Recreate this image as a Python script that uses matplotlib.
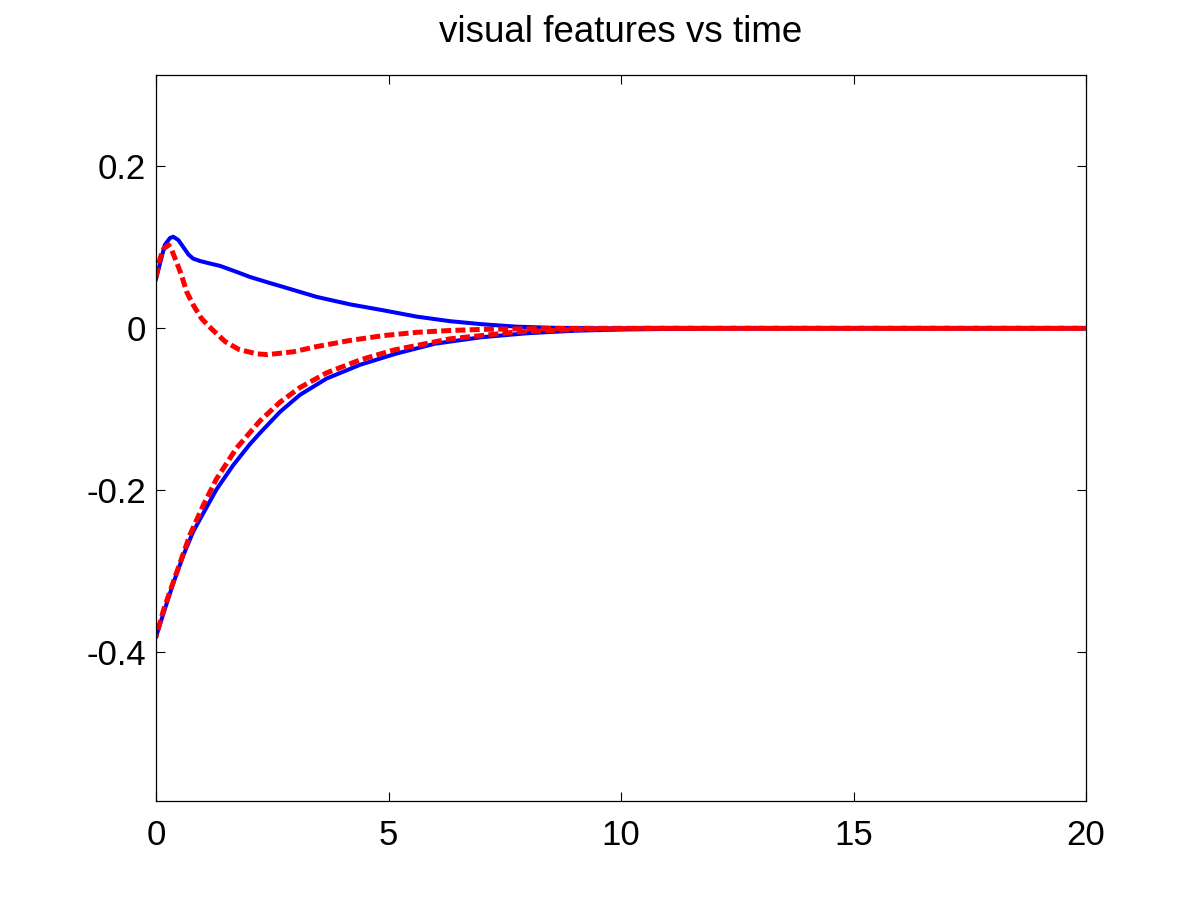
import matplotlib
matplotlib.use("Agg")
import matplotlib.pyplot as plt

# ---- data ----
t_blue_up = [0, 0.086, 0.19, 0.30, 0.37, 0.48, 0.59, 0.70, 0.80, 0.95, 1.16, 1.38,
             1.74, 2.02, 2.42, 2.74, 3.46, 4.17, 4.89, 5.6, 6.32, 7.04, 7.76, 8.5,
             9.5, 11, 20]
y_blue_up = [0.061, 0.080, 0.103, 0.1115, 0.113, 0.109, 0.100, 0.091, 0.086, 0.083,
             0.080, 0.077, 0.0695, 0.0634, 0.0564, 0.051, 0.0387, 0.0296, 0.0222,
             0.0145, 0.0088, 0.0049, 0.0020, 0.0007, 0.0, 0.0, 0.0]

t_blue_low = [0, 0.16, 0.37, 0.59, 0.80, 1.02, 1.30, 1.66, 2.02, 2.24, 2.67, 3.10,
              3.67, 4.39, 5.18, 6.0, 7.0, 8.0, 9.0, 10.0, 12, 20]
y_blue_low = [-0.381, -0.352, -0.315, -0.280, -0.251, -0.228, -0.199, -0.169,
              -0.143, -0.129, -0.103, -0.082, -0.062, -0.045, -0.031, -0.019,
              -0.011, -0.006, -0.003, -0.0015, 0.0, 0.0]

t_red_up = [0, 0.086, 0.16, 0.27, 0.34, 0.44, 0.55, 0.66, 0.80, 0.98, 1.2, 1.49,
            1.78, 2.16, 2.4, 2.95, 3.46, 4.17, 4.89, 5.6, 6.32, 7.04, 8, 9, 20]
y_red_up = [0.063, 0.086, 0.098, 0.103, 0.0963, 0.082, 0.0654, 0.045, 0.0288,
            0.012, -0.001, -0.0165, -0.026, -0.0315, -0.0325, -0.029, -0.0225,
            -0.0150, -0.0090, -0.0050, -0.0027, -0.0013, -0.0005, 0.0, 0.0]

t_red_low = [0, 0.16, 0.44, 0.73, 1.02, 1.30, 1.73, 2.24, 2.67, 3.10, 3.67, 4.39,
             5.10, 6.32, 7.75, 9, 10.5, 20]
y_red_low = [-0.381, -0.348, -0.302, -0.255, -0.218, -0.186, -0.148, -0.114,
             -0.091, -0.073, -0.055, -0.039, -0.027, -0.013, -0.0045, -0.0015,
             0.0, 0.0]

x_ticks = [0, 5, 10, 15, 20]
x_tick_labels = ["0", "5", "10", "15", "20"]
y_ticks = [-0.4, -0.2, 0, 0.2]
y_tick_labels = ["-0.4", "-0.2", "0", "0.2"]
title = "visual features vs time"

plt.rcParams['font.family'] = ['Liberation Sans', 'DejaVu Sans']
plt.rcParams['axes.unicode_minus'] = False

fig = plt.figure(figsize=(12, 9), dpi=100)
ax = fig.add_axes([0.13, 0.1103, 0.775, 0.806])

ax.plot(t_blue_up, y_blue_up, color='#0000ff', lw=2.9, solid_joinstyle='round')
ax.plot(t_blue_low, y_blue_low, color='#0000ff', lw=2.9, solid_joinstyle='round')
ax.plot(t_red_up, y_red_up, color='#ff0000', lw=3.6, linestyle=(0, (2.0, 0.85)))
ax.plot(t_red_low, y_red_low, color='#ff0000', lw=3.6, linestyle=(1.4, (2.0, 0.85)))

ax.set_xlim(0, 20)
ax.set_ylim(-0.5832, 0.3123)
ax.set_xticks(x_ticks)
ax.set_xticklabels(x_tick_labels)
ax.set_yticks(y_ticks)
ax.set_yticklabels(y_tick_labels)
ax.tick_params(direction='in', length=6.5, width=0.8, top=True, right=True,
               labelsize=25, colors='black')
ax.tick_params(axis='y', pad=7)
ax.tick_params(axis='x', pad=13)
for s in ax.spines.values():
    s.set_linewidth(0.9)
ax.set_title(title, fontsize=26.5, pad=24)

fig.savefig("out.png", dpi=100, facecolor='white')
